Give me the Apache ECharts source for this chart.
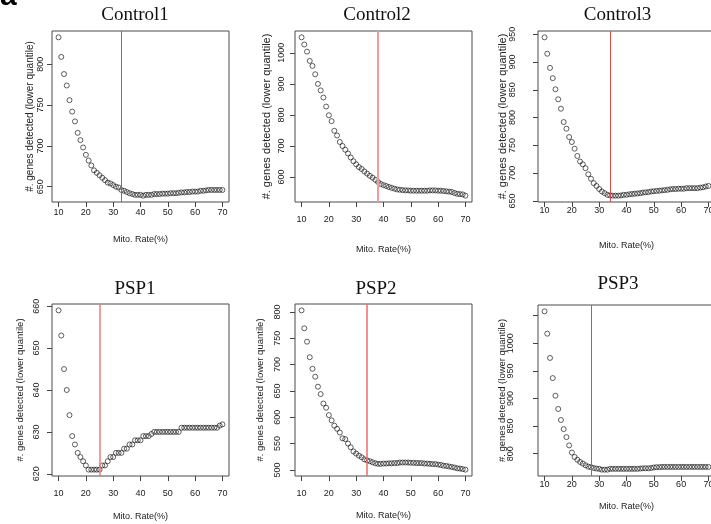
<!DOCTYPE html>
<html>
<head>
<meta charset="utf-8">
<script src="https://cdn.jsdelivr.net/npm/echarts@6/dist/echarts.min.js"></script>
<style>
  html, body { margin: 0; padding: 0; background: #ffffff; }
  #chart { width: 711px; height: 524px; }
</style>
</head>
<body>
<div id="chart"></div>
<script>
// Mitochondrial-rate thresholds (%) shared by every sample
const mitoRate = [10,11,12,13,14,15,16,17,18,19,20,21,22,23,24,25,26,27,28,29,30,
  31,32,33,34,35,36,37,38,39,40,41,42,43,44,45,46,47,48,49,50,
  51,52,53,54,55,56,57,58,59,60,61,62,63,64,65,66,67,68,69,70];

const sampleNames = ['Control1', 'Control2', 'Control3', 'PSP1', 'PSP2', 'PSP3'];

// Number of genes detected (lower quantile) at each threshold
const control1 = [833,809,788,774,756,742,730,716,707,698,689,682,676,670,667,664,661,658,655,654,652,
  650,649,646,645,643.5,642,641,640,640,640,639,640,640,640,641,641,641,641.5,641.5,641.5,
  642,642,642,642.5,643,643,643.5,643.5,644,644,644,645,645,645.5,646,646,646,646,646,646];
const control2 = [1050,1027,1004,974,958,931,900,879,856,827,799,780,749,734,713,700,688,676,663,651,641,
  632,626,618,611,604,598,591,584,577.5,574,571,568,565,562.5,560,559,558,557,557,556,
  556,556,556,556,556,556,557,557,557,556,556,555,554,553,552,548.5,546,545,544,540];
const control3 = [944.5,915,889.5,871,851,833,816,792,780,765,756,744,731,721,716,709,698,690,682,677,671.5,
  667,664,661,660,659.5,659.5,659.5,660,661,661,662,662.5,663,663.5,664,665,665.5,666,667,667.5,
  668,668.5,669,669.5,670,671,671.5,671.5,672,672,672,673,673,673,673,673,674,674.5,676,677];
const psp1 = [659,653,645,640,634,629,627,625,624,623,622,621,621,621,621,621,622,622,623,624,624,
  625,625,625,626,626,627,627,628,628,628,629,629,629,629.5,630,630,630,630,630,630,
  630,630,630,630,631,631,631,631,631,631,631,631,631,631,631,631,631,631,631.5,631.8];
const psp2 = [803,769,743.5,714,692,677,658,644,626,618,604,594,584,578,571,560,558.5,550,543,535,531,
  527,524,520,518,516.5,514.5,512.5,511.5,511.5,512,512,512.5,512.5,513,513,514,514,514,514,513.5,
  513.5,513,513,513,512,512,511.5,511,511,510,509.5,508,507.5,506.5,505.5,504.5,503,502.5,501.5,500.5];
const psp3 = [1058,1017.5,973.5,937,905,881,861,844.5,830,815,802,794,789,785,782,779,776.5,775.5,774,773,772.5,
  771,771,771,772.5,772.5,772.5,772.5,772.5,772.5,772.5,772.5,772.5,772.5,772.5,773,773.5,773.5,773.5,774,775,
  775.5,775.5,776,776,776,776,776,776,776,776,776,776,776,776,776,776,776,776,776,776];

const sampleValues = [control1, control2, control3, psp1, psp2, psp3];

// Chosen mito-rate cutoff for each sample
const cutoffs = [33, 38, 34, 25, 34, 27];

// Tick positions and tick labels
const xTicks = [10, 20, 30, 40, 50, 60, 70];
const yTicks = [
  [650, 700, 750, 800],
  [600, 700, 800, 900, 1000],
  [650, 700, 750, 800, 850, 900, 950],
  [620, 630, 640, 650, 660],
  [500, 550, 600, 650, 700, 750, 800],
  [800, 850, 900, 950, 1000, 1050]
];
const yTickLabels = [
  [650, 700, 750, 800],
  [600, 700, 800, 900, 1000],
  [650, 700, 750, 800, 850, 900, 950],
  [620, 630, 640, 650, 660],
  [500, 550, 600, 650, 700, 750, 800],
  [800, 850, 900, 950, 1000]
];

const xTitle = 'Mito. Rate(%)';
const yTitle = '#. genes detected (lower quantile)';

// Panel placement and per-panel text offsets
const panelLayout = [
  { left: 52,  top: 31,  height: 171, yLab: 7,    yName: 16.5, yNameSize: 10,   xLab: 6,    xName: 33.5, tx: 135,   ty: 15.5, cut: '#e04a4a', cutW: 1 },
  { left: 295, top: 31,  height: 171, yLab: 9,    yName: 22.5, yNameSize: 11,   xLab: 13.5, xName: 43.5, tx: 377,   ty: 15.5, cut: '#f49a9a', cutW: 2 },
  { left: 538, top: 31,  height: 171, yLab: 20.5, yName: 29.5, yNameSize: 11,   xLab: 4.5,  xName: 39.5, tx: 617.5, ty: 15.5, cut: '#e04a4a', cutW: 1 },
  { left: 52,  top: 304, height: 172, yLab: 10.5, yName: 26.5, yNameSize: 9.5,  xLab: 12.8, xName: 36,   tx: 135,   ty: 289,  cut: '#f07a7a', cutW: 1.5 },
  { left: 295, top: 304, height: 172, yLab: 12.5, yName: 30,   yNameSize: 9.5,  xLab: 12.8, xName: 35.5, tx: 376,   ty: 289,  cut: '#f06a6a', cutW: 1.5 },
  { left: 538, top: 305, height: 171, yLab: 23,   yName: 31,   yNameSize: 9.5,  xLab: 3.8,  xName: 26,   tx: 618,   ty: 284,  cut: '#e04a4a', cutW: 1 }
];
const panelWidth = 177;

// R-style axis extent: data range padded by 4% on each side
function paddedRange(values) {
  const lo = Math.min.apply(null, values);
  const hi = Math.max.apply(null, values);
  const pad = (hi - lo) * 0.04;
  return [lo - pad, hi + pad];
}

const sansFont = 'Liberation Sans, Arial, sans-serif';
const plainNumber = function (v) { return String(v); };
const xRange = paddedRange(mitoRate);

const grids = [], xAxes = [], yAxes = [], series = [], graphics = [];

sampleNames.forEach(function (name, i) {
  const L = panelLayout[i];
  const yRange = paddedRange(sampleValues[i]);

  grids.push({
    left: L.left, top: L.top, width: panelWidth, height: L.height,
    show: true, borderColor: '#4a4a4a', borderWidth: 1, backgroundColor: 'transparent',
    containLabel: false, outerBoundsMode: 'none'
  });

  xAxes.push({
    type: 'value', gridIndex: i, min: xRange[0], max: xRange[1],
    name: xTitle, nameLocation: 'middle', nameGap: L.xName, nameMoveOverlap: false,
    nameTextStyle: { fontFamily: sansFont, fontSize: 9, color: '#222' },
    axisLine: { show: false },
    axisTick: { show: true, inside: false, length: 5, customValues: xTicks, lineStyle: { color: '#444', width: 1 } },
    axisLabel: { show: true, customValues: xTicks, formatter: plainNumber, margin: L.xLab, fontFamily: sansFont, fontSize: 9, color: '#222' },
    splitLine: { show: false }
  });

  yAxes.push({
    type: 'value', gridIndex: i, min: yRange[0], max: yRange[1],
    name: yTitle, nameLocation: 'middle', nameGap: L.yName, nameRotate: 90, nameMoveOverlap: false,
    nameTextStyle: { fontFamily: sansFont, fontSize: L.yNameSize, color: '#222' },
    axisLine: { show: false },
    axisTick: { show: true, inside: false, length: 5, customValues: yTicks[i], lineStyle: { color: '#444', width: 1 } },
    axisLabel: { show: true, customValues: yTickLabels[i], formatter: plainNumber, rotate: 90, margin: L.yLab, fontFamily: sansFont, fontSize: 9, color: '#222' },
    splitLine: { show: false }
  });

  series.push({
    type: 'scatter', xAxisIndex: i, yAxisIndex: i,
    symbol: 'circle', symbolSize: 5,
    itemStyle: { color: 'rgba(0,0,0,0)', borderColor: '#151515', borderWidth: 0.85 },
    emphasis: { disabled: true },
    silent: true,
    data: mitoRate.map(function (x, k) { return [x, sampleValues[i][k]]; }),
    markLine: {
      silent: true, symbol: 'none', animation: false,
      label: { show: false },
      lineStyle: { color: L.cut, width: L.cutW, type: 'solid', opacity: 1 },
      data: [{ xAxis: cutoffs[i] }]
    }
  });

  graphics.push({
    type: 'text', x: L.tx, y: L.ty,
    style: { text: name, font: '19px "Liberation Serif", "Times New Roman", serif', fill: '#111', align: 'center', verticalAlign: 'middle' }
  });
});

// Figure panel letter in the top-left corner
graphics.push({
  type: 'text', x: 0, y: -18,
  style: { text: 'a', font: 'bold 30px "Liberation Sans", Arial, sans-serif', fill: '#000', align: 'left', verticalAlign: 'top' }
});

const chart = echarts.init(document.getElementById('chart'), null, { renderer: 'canvas' });
chart.setOption({
  animation: false,
  backgroundColor: '#ffffff',
  grid: grids,
  xAxis: xAxes,
  yAxis: yAxes,
  series: series,
  graphic: graphics
});
</script>
</body>
</html>
